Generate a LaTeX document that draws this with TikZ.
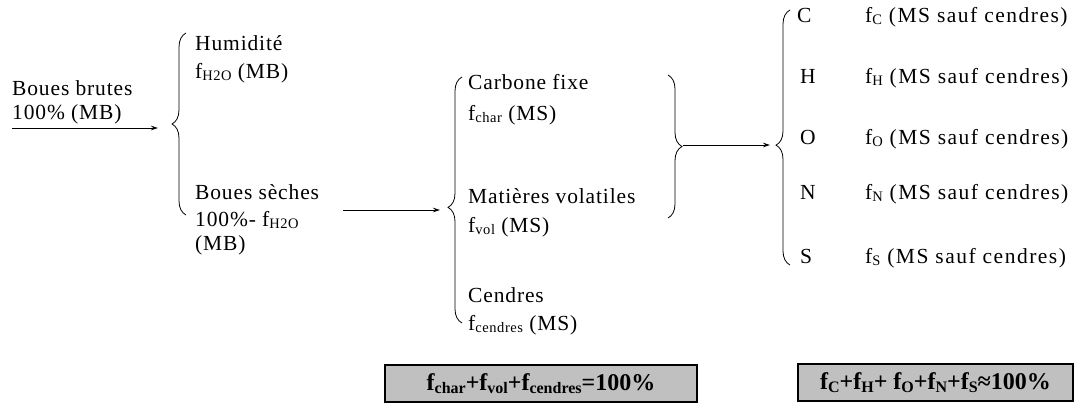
\documentclass[tikz,border=0pt]{standalone}
\usepackage{fontspec}
\setmainfont{Liberation Serif}[LetterSpace=4]
\usetikzlibrary{decorations.pathreplacing,arrows.meta}
\definecolor{boxgray}{RGB}{192,192,192}
\newcommand{\sbx}[1]{\raisebox{-0.22ex}{\fontsize{14.5}{15}\selectfont #1}}
\newcommand{\bsbx}[1]{\raisebox{-0.22ex}{\fontsize{16}{16}\selectfont #1}}
\begin{document}
\begin{tikzpicture}[x=1pt,y=-1pt,
  every node/.style={inner sep=0pt, anchor=base west, font=\fontsize{21.5}{24}\selectfont},
  frac/.style={font=\fontsize{21.5}{24}\selectfont\addfontfeatures{LetterSpace=7}},
  brc/.style={decorate, decoration={brace, amplitude=14pt, aspect=#1}, line width=0.8pt},
  brc/.default=0.5,
  conn/.style={-{Stealth[length=7pt,width=4.5pt]}, line width=0.8pt},
  sumbox/.style={draw, fill=boxgray, line width=1.2pt, anchor=center,
    minimum height=37pt, font=\fontsize{24}{26}\selectfont\bfseries\addfontfeatures{LetterSpace=0}}]
\useasboundingbox (0,0) rectangle (1075,410);

% raw sludge input
\node (bb1) at (12,95) {Boues brutes};
\node (bb2) at (12,119) {100\% (MB)};
\coordinate (inA) at (12,128);
\coordinate (tipA) at (158,128);
\draw[conn] (inA) -- (tipA);

% first split: moisture / dry sludge
\draw[brc] (186,215) -- (186,33);
\node (hum1) at (195,50) {Humidité};
\node (hum2) at (195,78) {f\sbx{H2O} (MB)};
\node (bs1) at (195,199) {Boues sèches};
\node (bs2) at (195,226) {100\%- f\sbx{H2O}};
\node (bs3) at (195,250) {(MB)};

\coordinate (outB) at (343,210);
\coordinate (tipB) at (440,210);
\draw[conn] (outB) -- (tipB);

% second split: fixed carbon / volatiles / ash
\draw[brc=0.47] (462,323) -- (462,77);
\node (cf1) at (468,89) {Carbone fixe};
\node (cf2) at (468,120) {f\sbx{char} (MS)};
\node (mv1) at (468,203) {Matières volatiles};
\node (mv2) at (468,232) {f\sbx{vol} (MS)};
\node (ce1) at (468,302) {Cendres};
\node (ce2) at (468,330) {f\sbx{cendres} (MS)};

% organic part grouped, then elemental split
\draw[brc] (668,75) -- (668,218);
\coordinate (outC) at (683,145);
\coordinate (tipC) at (770,145);
\draw[conn] (outC) -- (tipC);

\draw[brc=0.47] (790,265) -- (790,10);
\node (eC) at (797,22) {C};
\node (eH) at (800,83) {H};
\node (eO) at (800,144) {O};
\node (eN) at (800,199) {N};
\node (eS) at (800,263) {S};
\node[frac] (fC) at (865,22) {f\sbx{C} (MS sauf cendres)};
\node[frac] (fH) at (865,83) {f\sbx{H} (MS sauf cendres)};
\node[frac] (fO) at (865,144) {f\sbx{O} (MS sauf cendres)};
\node[frac] (fN) at (865,199) {f\sbx{N} (MS sauf cendres)};
\node[frac] (fS) at (865,263) {f\sbx{S} (MS sauf cendres)};

% mass balances
\node[sumbox, minimum width=312pt] (sum1) at (541,383.5)
  {f\bsbx{char}+f\bsbx{vol}+f\bsbx{cendres}=100\%};
\node[sumbox, minimum width=275pt] (sum2) at (935.5,382.5)
  {f\bsbx{C}+f\bsbx{H}+ f\bsbx{O}+f\bsbx{N}+f\bsbx{S}≈100\%};
\end{tikzpicture}
\end{document}
